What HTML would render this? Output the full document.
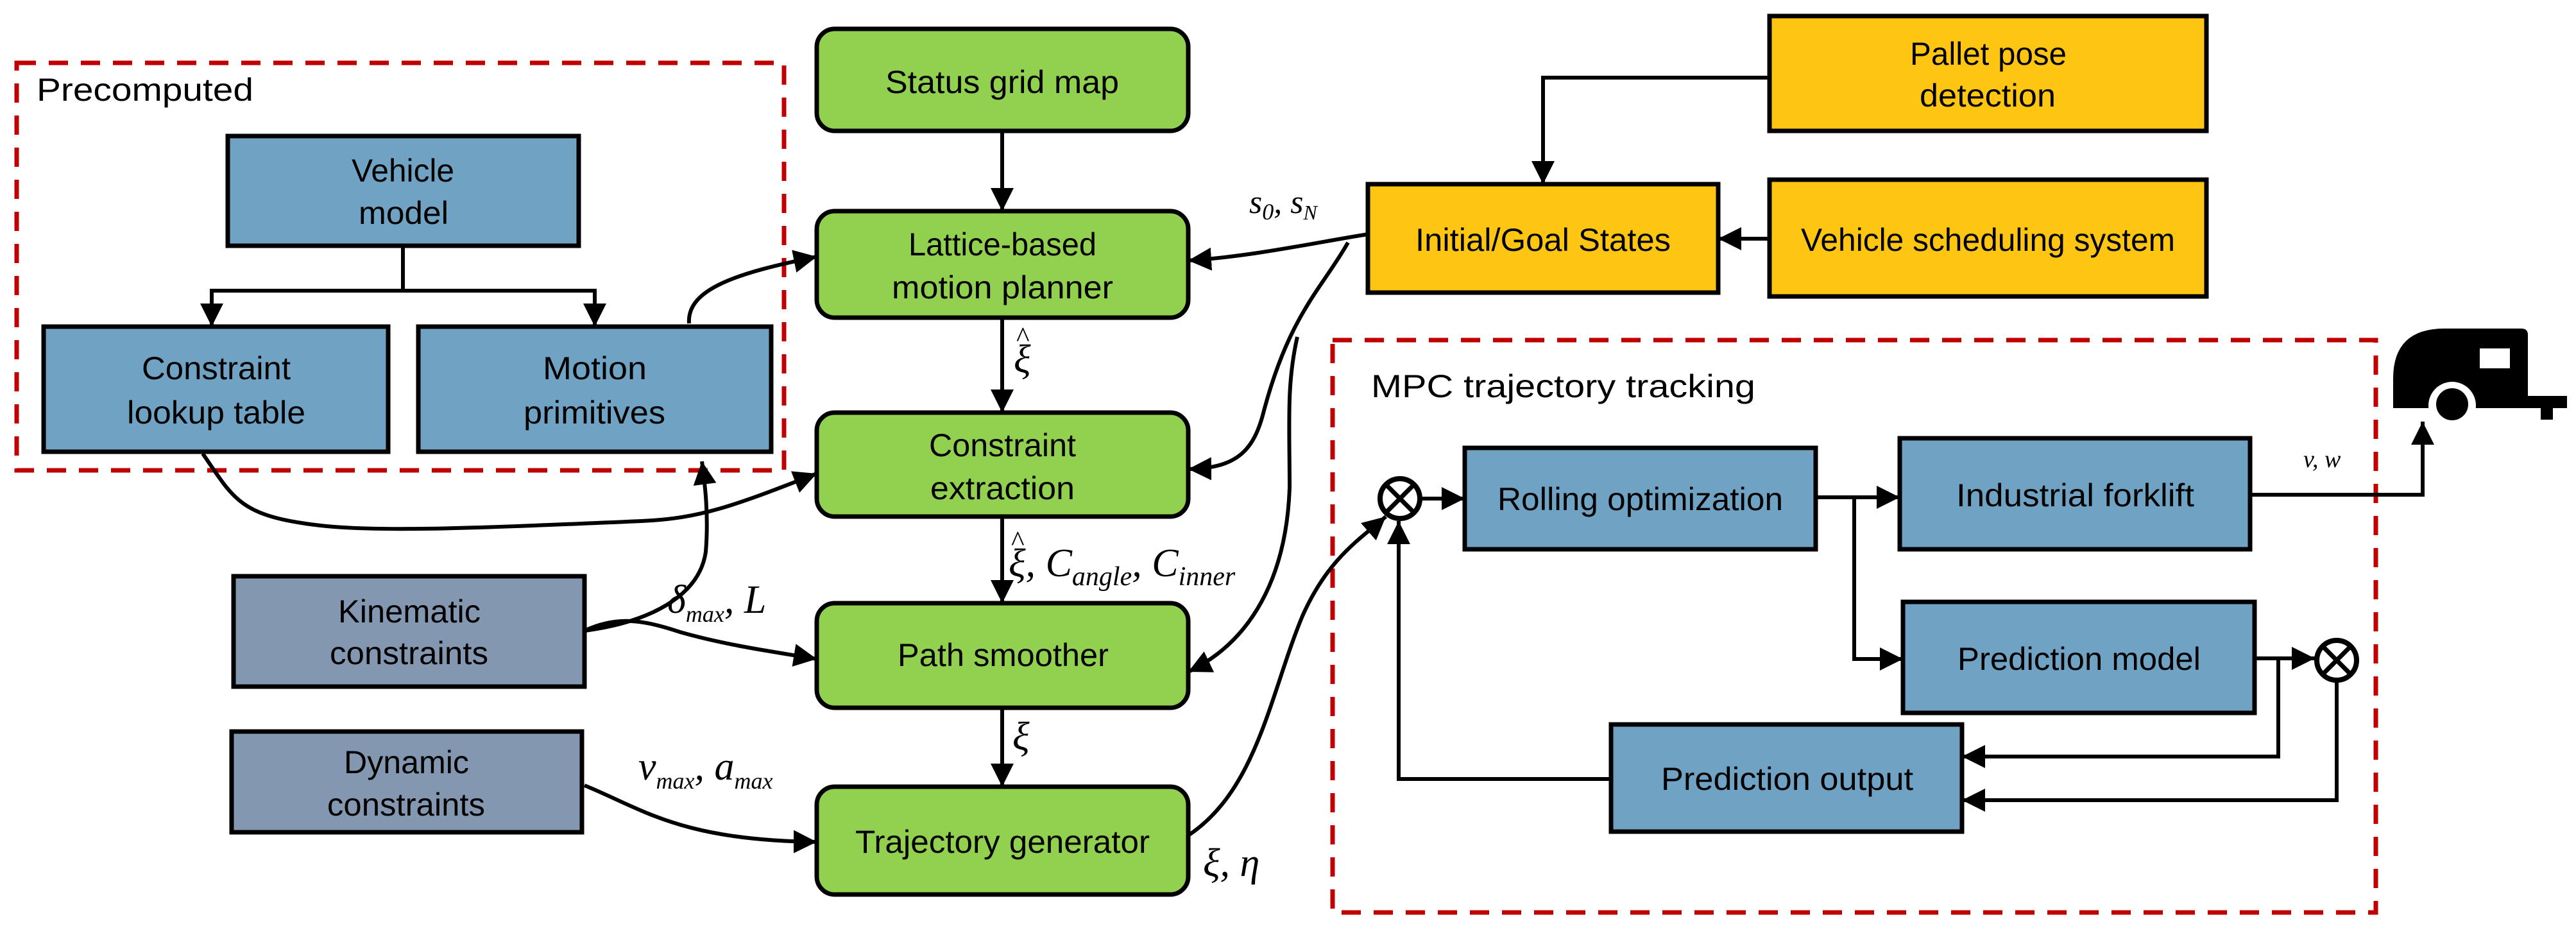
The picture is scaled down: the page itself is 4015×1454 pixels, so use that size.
<!DOCTYPE html>
<html><head><meta charset="utf-8"><style>
html,body{margin:0;padding:0;background:#fff;}
svg{display:block;}
.t{font-family:"Liberation Sans Narrow","Liberation Sans",sans-serif;font-size:50px;fill:#000;}
.m{font-family:"Liberation Serif",serif;font-style:italic;font-size:62px;fill:#000;}
.s{font-family:"Liberation Serif",serif;font-size:36px;fill:#000;}
.si{font-family:"Liberation Serif",serif;font-style:italic;font-size:42px;fill:#000;}
.h{font-family:"Liberation Serif",serif;font-size:44px;fill:#000;}
</style></head><body>
<svg width="4015" height="1454" viewBox="0 0 4015 1454" xmlns="http://www.w3.org/2000/svg">
<defs>
<marker id="a" viewBox="0 0 10 10" refX="10" refY="5" markerWidth="6" markerHeight="6" markerUnits="strokeWidth" orient="auto"><path d="M0,0 L10,5 L0,10 z" fill="#000"/></marker>
</defs>
<rect x="26" y="98" width="1196" height="635" fill="none" stroke="#c00000" stroke-width="7" stroke-dasharray="30,20"/>
<rect x="2077" y="530" width="1626" height="892" fill="none" stroke="#c00000" stroke-width="7" stroke-dasharray="30,20"/>

<g stroke="#000" stroke-width="7">
<rect x="355" y="212" width="547" height="171" fill="#6fa2c3"/>
<rect x="68" y="509" width="537" height="195" fill="#6fa2c3"/>
<rect x="652" y="509" width="550" height="195" fill="#6fa2c3"/>
<rect x="364" y="898" width="547" height="172" fill="#8497b0"/>
<rect x="361" y="1140" width="546" height="157" fill="#8497b0"/>
<rect x="1273" y="45" width="579" height="159" rx="28" fill="#92d050"/>
<rect x="1273" y="329" width="579" height="166" rx="28" fill="#92d050"/>
<rect x="1273" y="643" width="579" height="162" rx="28" fill="#92d050"/>
<rect x="1273" y="940" width="579" height="163" rx="28" fill="#92d050"/>
<rect x="1273" y="1226" width="579" height="168" rx="28" fill="#92d050"/>
<rect x="2758" y="25" width="681" height="179" fill="#ffc513"/>
<rect x="2132" y="287" width="546" height="169" fill="#ffc513"/>
<rect x="2758" y="280" width="681" height="182" fill="#ffc513"/>
<rect x="2283" y="698" width="547" height="158" fill="#6fa2c3"/>
<rect x="2961" y="683" width="546" height="173" fill="#6fa2c3"/>
<rect x="2966" y="938" width="548" height="173" fill="#6fa2c3"/>
<rect x="2511" y="1129" width="547" height="167" fill="#6fa2c3"/>
</g>

<g fill="none" stroke="#000" stroke-width="6" marker-end="url(#a)">
<path d="M628,383 V453 H330 V509"/>
<path d="M628,453 H927 V509"/>
<path d="M1562,204 V329"/>
<path d="M1562,495 V643"/>
<path d="M1562,805 V940"/>
<path d="M1562,1103 V1226"/>
<path d="M1074,504 C1070,450 1150,425 1273,400"/>
<path d="M316,707 C360,770 370,800 470,815 C560,830 700,825 1000,812 C1090,808 1140,790 1273,738"/>
<path d="M911,983 C1010,970 1090,930 1100,860 C1105,800 1098,750 1094,719"/>
<path d="M911,983 C960,960 1000,965 1060,985 C1130,1005 1200,1015 1273,1027"/>
<path d="M911,1224 C1000,1260 1060,1310 1273,1312"/>
<path d="M2132,365 C2050,378 1950,400 1852,406"/>
<path d="M2101,378 C2060,450 2010,490 1970,640 C1955,700 1930,730 1852,731"/>
<path d="M2022,525 C2005,600 2010,660 2010,760 C2005,900 1950,1000 1852,1047"/>
<path d="M1852,1302 C1960,1230 1980,1080 2030,960 C2070,870 2120,840 2160,805"/>
<path d="M2758,121 H2405 V287"/>
<path d="M2758,372 H2678"/>
<path d="M2217,777 H2283"/>
<path d="M2830,775 H2961"/>
<path d="M2890,775 V1027 H2966"/>
<path d="M3514,1026 H3608"/>
<path d="M3551,1026 V1179 H3058"/>
<path d="M3642,1062 V1247 H3058"/>
<path d="M2511,1214 H2180 V812"/>
<path d="M3507,771 H3776 V657"/>
</g>
<g stroke="#000" stroke-width="8" fill="#fff">
<circle cx="2182" cy="777" r="31"/>
<circle cx="3642" cy="1029" r="31"/>
</g>
<g stroke="#000" stroke-width="7">
<line x1="2160" y1="755" x2="2204" y2="799"/><line x1="2204" y1="755" x2="2160" y2="799"/>
<line x1="3620" y1="1007" x2="3664" y2="1051"/><line x1="3664" y1="1007" x2="3620" y2="1051"/>
</g>

<path d="M3730,636 V590 Q3730,512 3810,512 H3930 Q3940,512 3940,522 V617 H4001 V636 Z" fill="#000"/>
<rect x="3960" y="630" width="19" height="24" fill="#000"/>
<rect x="3865" y="543" width="47" height="31" fill="#fff"/>
<circle cx="3822" cy="632" r="37" fill="#fff"/>
<rect x="3780" y="636" width="90" height="30" fill="#fff"/>
<circle cx="3822" cy="630" r="25" fill="#000"/>

<g class="t">
<text x="57" y="157" textLength="338" lengthAdjust="spacingAndGlyphs">Precomputed</text>
<text x="548" y="283" textLength="160" lengthAdjust="spacingAndGlyphs">Vehicle</text>
<text x="559" y="349" textLength="140" lengthAdjust="spacingAndGlyphs">model</text>
<text x="221" y="591" textLength="232" lengthAdjust="spacingAndGlyphs">Constraint</text>
<text x="198" y="660" textLength="278" lengthAdjust="spacingAndGlyphs">lookup table</text>
<text x="846" y="591" textLength="162" lengthAdjust="spacingAndGlyphs">Motion</text>
<text x="816" y="660" textLength="221" lengthAdjust="spacingAndGlyphs">primitives</text>
<text x="1380" y="145" textLength="364" lengthAdjust="spacingAndGlyphs">Status grid map</text>
<text x="1416" y="398" textLength="293" lengthAdjust="spacingAndGlyphs">Lattice-based</text>
<text x="1390" y="465" textLength="345" lengthAdjust="spacingAndGlyphs">motion planner</text>
<text x="1448" y="711" textLength="229" lengthAdjust="spacingAndGlyphs">Constraint</text>
<text x="1450" y="778" textLength="225" lengthAdjust="spacingAndGlyphs">extraction</text>
<text x="1399" y="1038" textLength="329" lengthAdjust="spacingAndGlyphs">Path smoother</text>
<text x="1333" y="1329" textLength="459" lengthAdjust="spacingAndGlyphs">Trajectory generator</text>
<text x="527" y="970" textLength="222" lengthAdjust="spacingAndGlyphs">Kinematic</text>
<text x="514" y="1035" textLength="247" lengthAdjust="spacingAndGlyphs">constraints</text>
<text x="536" y="1205" textLength="195" lengthAdjust="spacingAndGlyphs">Dynamic</text>
<text x="510" y="1271" textLength="246" lengthAdjust="spacingAndGlyphs">constraints</text>
<text x="2977" y="101" textLength="244" lengthAdjust="spacingAndGlyphs">Pallet pose</text>
<text x="2992" y="166" textLength="212" lengthAdjust="spacingAndGlyphs">detection</text>
<text x="2206" y="391" textLength="398" lengthAdjust="spacingAndGlyphs">Initial/Goal States</text>
<text x="2807" y="391" textLength="583" lengthAdjust="spacingAndGlyphs">Vehicle scheduling system</text>
<text x="2137" y="619" textLength="599" lengthAdjust="spacingAndGlyphs">MPC trajectory tracking</text>
<text x="2334" y="795" textLength="445" lengthAdjust="spacingAndGlyphs">Rolling optimization</text>
<text x="3049" y="789" textLength="371" lengthAdjust="spacingAndGlyphs">Industrial forklift</text>
<text x="3051" y="1044" textLength="379" lengthAdjust="spacingAndGlyphs">Prediction model</text>
<text x="2589" y="1231" textLength="393" lengthAdjust="spacingAndGlyphs">Prediction output</text>
</g>

<!-- math labels -->
<text class="m" x="1580" y="580">ξ</text>
<text class="h" x="1584" y="540">^</text>
<text class="m" x="1572" y="898">ξ, <tspan>C</tspan><tspan class="si" dy="14">angle</tspan><tspan dy="-14">, C</tspan><tspan class="si" dy="14">inner</tspan></text>
<text class="h" x="1576" y="858">^</text>
<text class="m" x="1040" y="955">δ<tspan class="s" dy="14">max</tspan><tspan dy="-14">, L</tspan></text>
<text class="m" x="995" y="1215">v<tspan class="s" dy="14">max</tspan><tspan dy="-14">, a</tspan><tspan class="s" dy="14">max</tspan></text>
<text class="m" x="1578" y="1168">ξ</text>
<text class="m" x="1875" y="1365">ξ, η</text>
<text class="m" x="1947" y="332" style="font-size:52px">s<tspan class="s" dy="10">0</tspan><tspan dy="-10">, s</tspan><tspan class="si" dy="10" style="font-size:32px">N</tspan></text>
<text class="m" x="3590" y="728" style="font-size:38px">v, w</text>
</svg>
</body></html>
